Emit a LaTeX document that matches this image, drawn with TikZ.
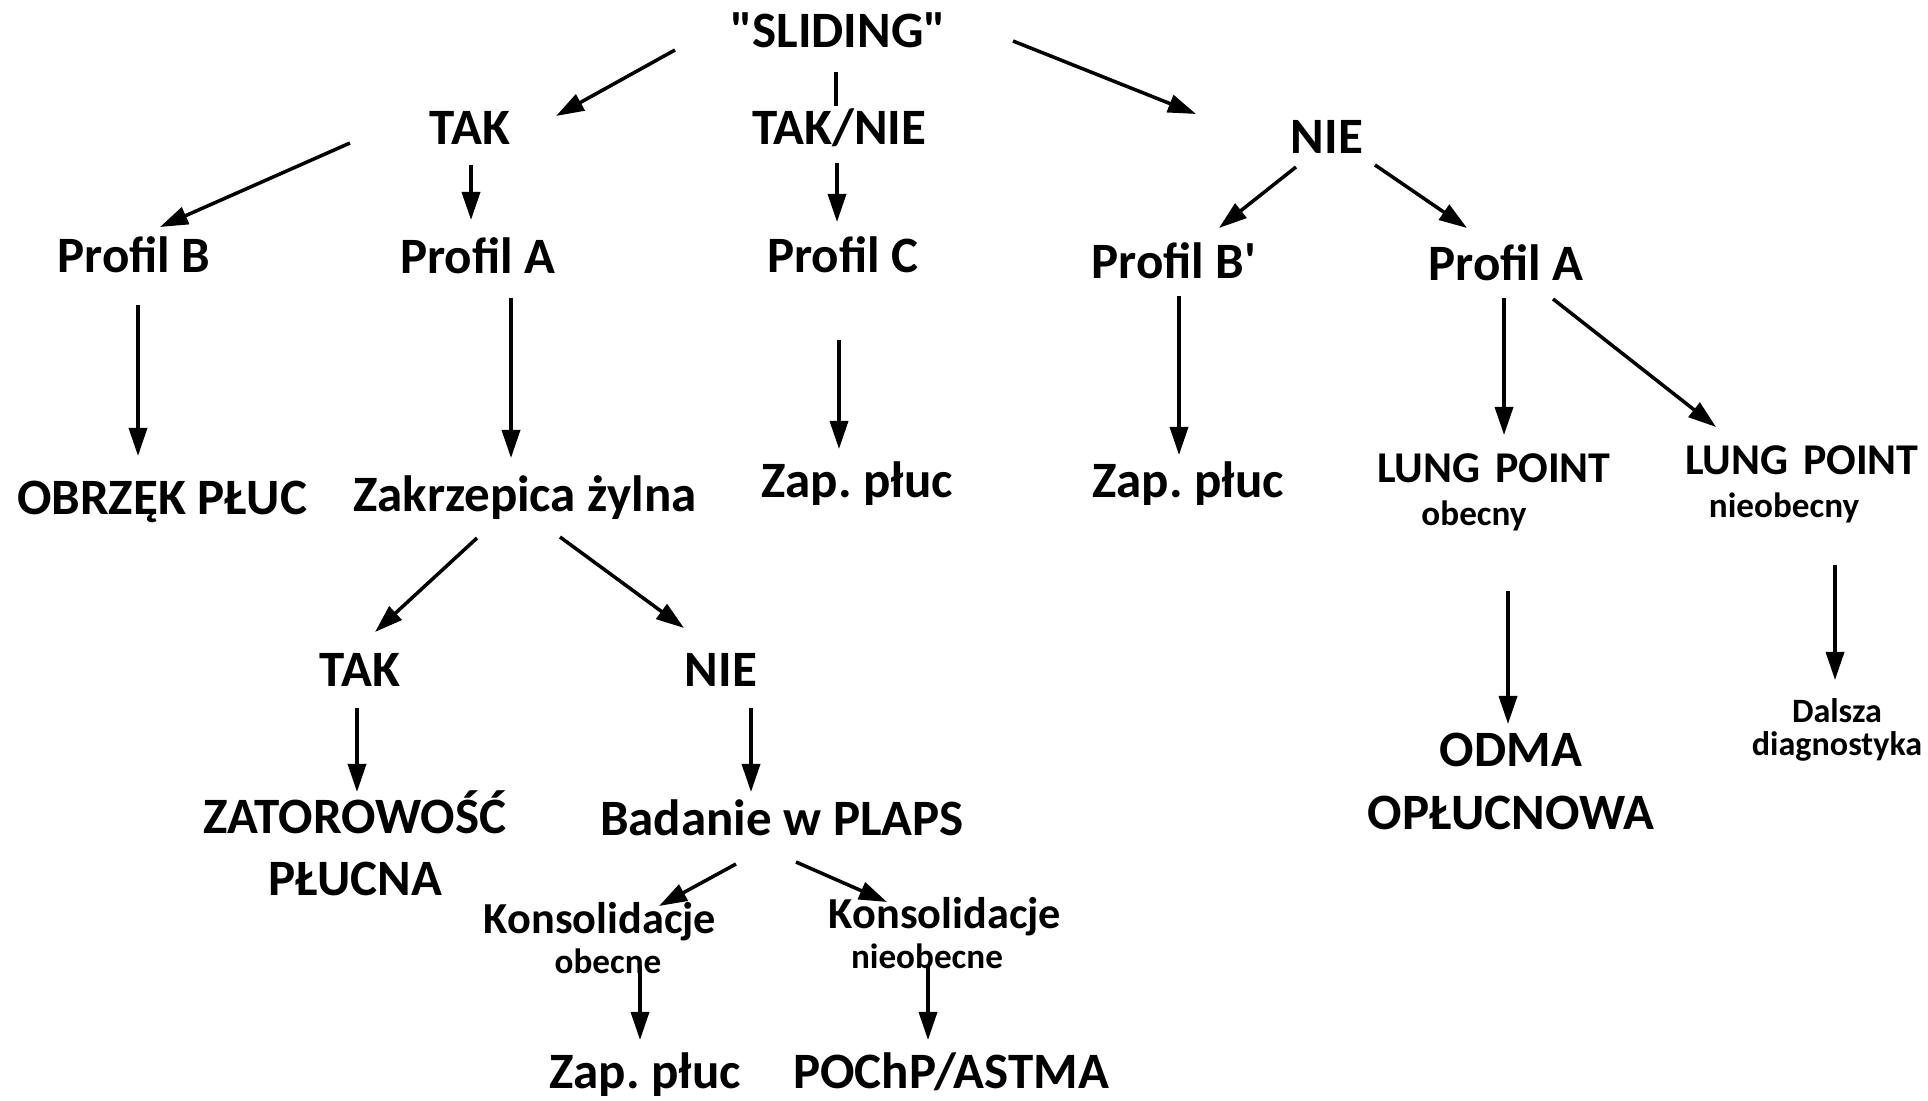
\documentclass[tikz,border=0pt]{standalone}
\usepackage{fontspec}
\setmainfont{Carlito}
\newfontfamily\calib{Carlito}
\usepackage{tikz}
\usetikzlibrary{arrows.meta}
\frenchspacing
\tikzset{
    lbl/.style={
        font=\calib\fontsize{14.5}{17.8}\selectfont\bfseries,
        inner sep=0pt,
        text height=0.63em,
        text depth=0pt,
        anchor=base
    },
    lbltwo/.style={
        font=\calib\fontsize{14.5}{17.8}\selectfont\bfseries,
        inner sep=0pt,
        text width=4cm,
        align=center,
        anchor=base
    },
    lblmid/.style={
        font=\calib\fontsize{12.5}{12}\selectfont\bfseries,
        inner sep=0pt,
        text width=3.5cm,
        align=center,
        anchor=base
    },
    lblkons/.style={
        font=\calib\fontsize{12.6}{11.4}\selectfont\bfseries,
        inner sep=0pt,
        text width=3.5cm,
        align=center,
        anchor=base
    },
    lblsmall/.style={
        font=\calib\fontsize{9.7}{9.4}\selectfont\bfseries,
        inner sep=0pt,
        text width=2.5cm,
        align=center,
        anchor=base
    },
    arr/.style={
        draw,
        -{Triangle[length=2.8mm, width=1.8mm]},
        line width=1pt
    }
}
\newcommand{\sub}[1]{{\fontsize{10}{12}\selectfont #1}}

\begin{document}
\begin{tikzpicture}[x=0.01cm, y=-0.01cm]
  \useasboundingbox (0,0) rectangle (1928,1101);

  % top of the tree
  \node[lbl] (sliding) at (838,48) {"SLIDING"};
  \node[lbl] (tak1) at (470,145) {TAK};
  \node[lbl] (taknie) at (839,145) {TAK/NIE};
  \node[lbl] (nie1) at (1327,154) {NIE};

  % profiles
  \node[lbl] (profB) at (134,273) {Profil B};
  \node[lbl] (profA) at (478,274) {Profil A};
  \node[lbl] (profC) at (843,273) {Profil C};
  \node[lbl] (profBp) at (1174,279) {Profil B'};
  \node[lbl] (profA2) at (1506,281) {Profil A};

  % results of the profiles
  \node[lbl] (obrzek) at (162,515) {OBRZĘK PŁUC};
  \node[lbl] (zakrz) at (525,512) {Zakrzepica żylna};
  \node[lbl] (zapC) at (857,498) {Zap. płuc};
  \node[lbl] (zapBp) at (1188,498) {Zap. płuc};
  \node[lblmid] (lungA) at (1494,483) {LUNG POINT\\\hspace*{-0.4cm}\sub{obecny}};
  \node[lblmid] (lungB) at (1802,475) {LUNG POINT\\\hspace*{-0.36cm}\sub{nieobecny}};

  % venous thrombosis branch
  \node[lbl] (tak2) at (360,687) {TAK};
  \node[lbl] (nie2) at (721,687) {NIE};
  \node[lbltwo] (zator) at (355,833) {ZATOROWOŚĆ\\PŁUCNA};
  \node[lbl] (badanie) at (782,835) {Badanie w PLAPS};
  \node[lblkons] (konsA) at (600,933) {Konsolidacje\\\hspace*{0.16cm}\sub{obecne}};
  \node[lblkons] (konsB) at (945,928) {Konsolidacje\\\hspace*{-0.36cm}\sub{nieobecne}};
  \node[lbl] (zapK) at (645,1088) {Zap. płuc};
  \node[lbl] (pochp) at (951,1088) {POChP/ASTMA};

  % lung point branch
  \node[lbltwo] (odma) at (1511,767) {ODMA\\OPŁUCNOWA};
  \node[lblsmall] (dalsza) at (1837,722) {Dalsza\\diagnostyka};

  % connectors
  \draw[arr] ([shift={(-163,2)}]sliding.base) -- ([shift={(86,-29)}]tak1.base);
  \draw[arr] ([shift={(175,-7)}]sliding.base) -- ([shift={(-131,-40)}]nie1.base);
  \draw[line width=1pt] ([shift={(-2,24)}]sliding.base) -- ([shift={(-3,-39)}]taknie.base);

  \draw[arr] ([shift={(-120,-2)}]tak1.base) -- ([shift={(26,-46)}]profB.base);
  \draw[arr] ([shift={(1,20)}]tak1.base) -- ([shift={(-7,-54)}]profA.base);
  \draw[arr] ([shift={(-2,18)}]taknie.base) -- ([shift={(-6,-51)}]profC.base);
  \draw[arr] ([shift={(-31,13)}]nie1.base) -- ([shift={(45,-51)}]profBp.base);
  \draw[arr] ([shift={(48,11)}]nie1.base) -- ([shift={(-39,-53)}]profA2.base);

  \draw[arr] ([shift={(4,32)}]profB.base) -- ([shift={(-24,-59)}]obrzek.base);
  \draw[arr] ([shift={(33,24)}]profA.base) -- ([shift={(-14,-54)}]zakrz.base);
  \draw[arr] ([shift={(-4,67)}]profC.base) -- ([shift={(-18,-49)}]zapC.base);
  \draw[arr] ([shift={(5,17)}]profBp.base) -- ([shift={(-9,-43)}]zapBp.base);
  \draw[arr] ([shift={(-2,17)}]profA2.base) -- ([shift={(10,-48)}]lungA.base);
  \draw[arr] ([shift={(47,18)}]profA2.base) -- ([shift={(-86,-48)}]lungB.base);

  \draw[arr] ([shift={(-48,26)}]zakrz.base) -- ([shift={(15,-55)}]tak2.base);
  \draw[arr] ([shift={(35,25)}]zakrz.base) -- ([shift={(-37,-59)}]nie2.base);
  \draw[arr] ([shift={(-3,21)}]tak2.base) -- ([shift={(2,-41)}]zator.base);
  \draw[arr] ([shift={(30,21)}]nie2.base) -- ([shift={(-31,-43)}]badanie.base);
  \draw[arr] ([shift={(-46,29)}]badanie.base) -- ([shift={(59,-27)}]konsA.base);
  \draw[arr] ([shift={(14,27)}]badanie.base) -- ([shift={(-58,-26)}]konsB.base);
  \draw[arr] ([shift={(40,33)}]konsA.base) -- ([shift={(-5,-48)}]zapK.base);
  \draw[arr] ([shift={(-17,38)}]konsB.base) -- ([shift={(-23,-48)}]pochp.base);

  \draw[arr] ([shift={(14,108)}]lungA.base) -- ([shift={(-3,-43)}]odma.base);
  \draw[arr] ([shift={(33,90)}]lungB.base) -- ([shift={(-2,-42)}]dalsza.base);
\end{tikzpicture}
\end{document}
